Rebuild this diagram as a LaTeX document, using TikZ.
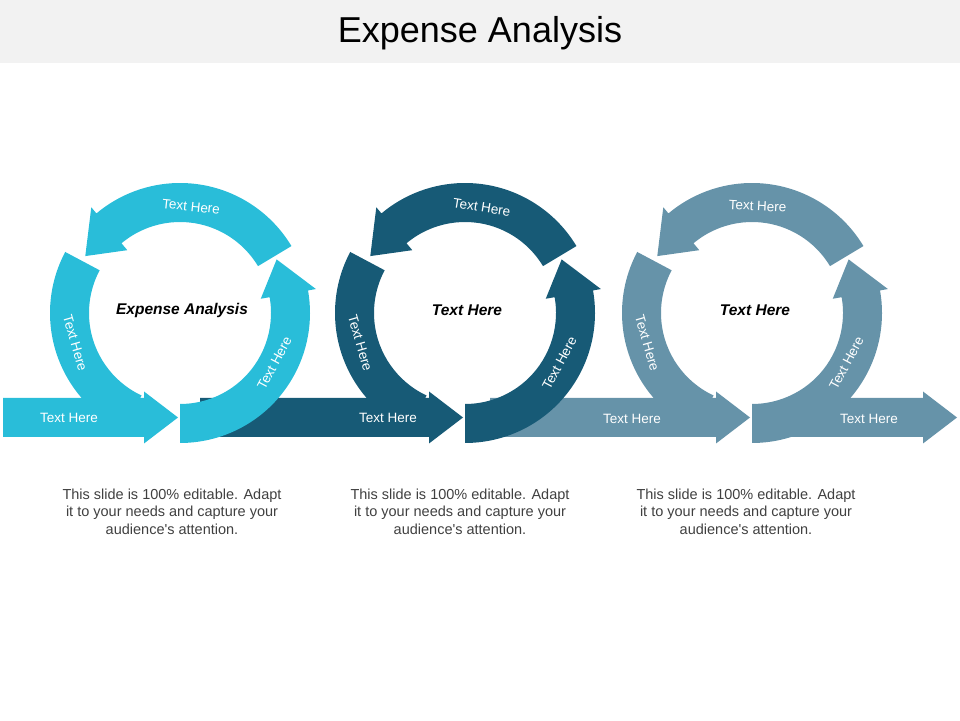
\documentclass[tikz,border=0pt]{standalone}
\usepackage{fontspec}
\setmainfont{Liberation Sans}
\usepackage{tikz}
\usetikzlibrary{calc}
\definecolor{skyband}{RGB}{41,189,217}
\definecolor{deepband}{RGB}{23,90,118}
\definecolor{slateband}{RGB}{102,147,169}
\definecolor{titlebar}{RGB}{242,242,242}
\definecolor{notegray}{RGB}{64,64,64}
\newcommand{\leftband}[2]{\fill[#2, shift={(#1)}] (152:91) -- (152:130) arc[start angle=152, end angle=245, radius=130] -- (245:91) arc[start angle=245, end angle=152, radius=91] -- cycle;}
\newcommand{\topband}[2]{\fill[#2, shift={(#1)}] (31:91) -- (31:130) arc[start angle=31, end angle=130, radius=130] -- (130:138) -- (149:110.5) -- (130:82) -- (130:91) arc[start angle=130, end angle=31, radius=91] -- cycle;}
\newcommand{\rightband}[2]{\fill[#2, shift={(#1)}] (270:91) -- (270:130) arc[start angle=270, end angle=370, radius=130] -- (10:138) -- (29:110.5) -- (10:82) -- (10:91) arc[start angle=370, end angle=270, radius=91] -- cycle;}
\newcommand{\flatarrow}[3]{\fill[#3] (#1,283) -- (#2-34,283) -- (#2-34,276.5) -- (#2,302.5) -- (#2-34,328.5) -- (#2-34,322) -- (#1,322) -- cycle;}
\newcommand{\notetxt}{This slide is 100\% editable. Adapt\\it to your needs and capture your\\audience\textquotesingle s attention.}

\begin{document}
\begin{tikzpicture}[x=1pt, y=1pt,
    bandtext/.style={text=white, inner sep=0pt, font=\fontsize{13.5}{16}\selectfont},
    hubtext/.style={font=\fontsize{15.5}{18}\selectfont\bfseries\itshape},
    notetext/.style={text=notegray, align=center, font=\fontsize{14.5}{17.5}\selectfont}]
    \useasboundingbox (0,0) rectangle (960,720);
    \fill[titlebar] (0,657) rectangle (960,720);
    \node[font=\fontsize{36}{43}\selectfont] (title) at (480,687) {Expense Analysis};
    \coordinate (c1) at (180,407);
    \coordinate (c2) at (465,407);
    \coordinate (c3) at (752,407);
    \leftband{c1}{skyband}
    \flatarrow{3}{178}{skyband}
    \leftband{c2}{deepband}
    \flatarrow{200}{463}{deepband}
    \topband{c1}{skyband}
    \rightband{c1}{skyband}
    \leftband{c3}{slateband}
    \flatarrow{490}{750}{slateband}
    \topband{c2}{deepband}
    \rightband{c2}{deepband}
    \flatarrow{790}{957}{slateband}
    \topband{c3}{slateband}
    \rightband{c3}{slateband}
    \foreach \c/\a in {c1/84,c2/81,c3/87} {
      \node[bandtext, rotate=\a-90] (\c-top) at ($(\c)+(\a:107)$) {Text Here};
      \node[bandtext, rotate=-74] (\c-left) at ($(\c)+(196:109)$) {Text Here};
      \node[bandtext, rotate=62] (\c-right) at ($(\c)+(332:107)$) {Text Here};
    }
    \node[bandtext] (a1) at (69,302) {Text Here};
    \node[bandtext] (a2) at (388,302) {Text Here};
    \node[bandtext] (a3) at (632,301) {Text Here};
    \node[bandtext] (a4) at (869,301) {Text Here};
    \node[hubtext] (hub1) at (182,410) {Expense Analysis};
    \node[hubtext] (hub2) at (467,410) {Text Here};
    \node[hubtext] (hub3) at (755,410) {Text Here};
    \node[notetext] (note1) at (172,208.5) {\notetxt};
    \node[notetext] (note2) at (460,208.5) {\notetxt};
    \node[notetext] (note3) at (746,208.5) {\notetxt};
  \end{tikzpicture}
\end{document}
